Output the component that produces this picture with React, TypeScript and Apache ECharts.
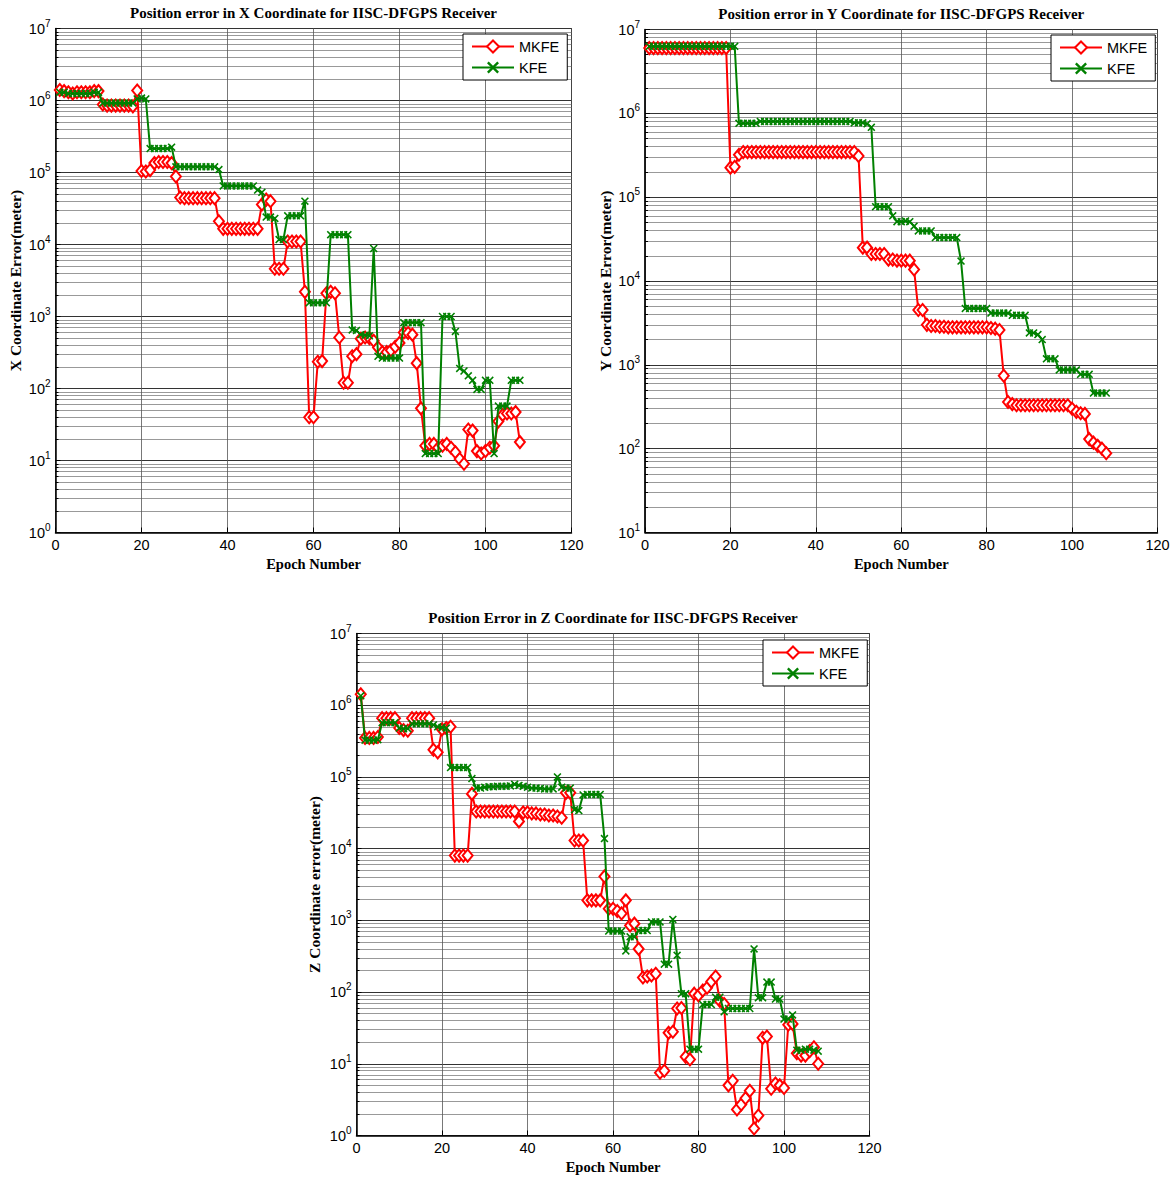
import React, { useEffect, useRef } from "react";
import * as echarts from "echarts";

// Epoch numbers (x positions of every sample)
const epochs: number[] = Array.from({ length: 108 }, (_, i) => i + 1);

// ---- X coordinate errors (meter) ----
const xMkfe: number[] = [
  1.4e6, 1.35e6, 1.3e6, 1.25e6, 1.3e6, 1.3e6, 1.3e6, 1.3e6, 1.35e6, 1.35e6,
  8.8e5, 8.5e5, 8.5e5, 8.5e5, 8.5e5, 8.5e5, 8.5e5, 8.3e5, 1.38e6, 1.05e5,
  1.03e5, 1.08e5, 1.35e5, 1.4e5, 1.4e5, 1.4e5, 1.35e5, 8.8e4, 4.5e4, 4.4e4,
  4.4e4, 4.4e4, 4.4e4, 4.4e4, 4.4e4, 4.4e4, 4.4e4, 2.1e4, 1.65e4, 1.65e4,
  1.65e4, 1.65e4, 1.65e4, 1.65e4, 1.65e4, 1.65e4, 1.65e4, 3.6e4, 4.2e4, 4.0e4,
  4.6e3, 4.6e3, 4.6e3, 1.1e4, 1.1e4, 1.1e4, 1.1e4, 2.2e3, 40, 40,
  235, 240, 2.1e3, 2.2e3, 2.1e3, 510, 120, 120, 280, 300,
  490, 510, 500, 460, 370, 320, 320, 340, 380, 430,
  600, 590, 560, 225, 53, 16, 17, 17, 15, 16,
  17, 15, 13, 10.5, 9, 27, 26, 13.5, 12.5, 13.5,
  15, 16, 35, 43, 45, 45, 47, 18,
];
const xKfe: number[] = [
  1.3e6, 1.3e6, 1.25e6, 1.25e6, 1.25e6, 1.25e6, 1.25e6, 1.25e6, 1.3e6, 1.3e6,
  9.2e5, 9.2e5, 9.2e5, 9.2e5, 9.2e5, 9.2e5, 9.2e5, 9.2e5, 1.05e6, 1.08e6,
  1.05e6, 2.15e5, 2.15e5, 2.15e5, 2.15e5, 2.15e5, 2.25e5, 1.2e5, 1.2e5, 1.2e5,
  1.2e5, 1.2e5, 1.2e5, 1.2e5, 1.2e5, 1.2e5, 1.2e5, 1.1e5, 6.5e4, 6.5e4,
  6.5e4, 6.5e4, 6.5e4, 6.5e4, 6.5e4, 6.5e4, 5.7e4, 5.3e4, 2.4e4, 2.4e4,
  2.3e4, 1.17e4, 1.17e4, 2.5e4, 2.5e4, 2.5e4, 2.5e4, 4.0e4, 1.55e3, 1.55e3,
  1.55e3, 1.55e3, 1.55e3, 1.37e4, 1.37e4, 1.37e4, 1.37e4, 1.37e4, 650, 640,
  560, 550, 540, 8.8e3, 280, 265, 265, 265, 265, 265,
  820, 820, 820, 820, 820, 12.5, 12.5, 12.5, 12.5, 1.0e3,
  1.0e3, 1.0e3, 620, 190, 175, 150, 130, 97, 97, 130,
  130, 12.5, 57, 57, 57, 130, 130, 130,
];

// ---- Y coordinate errors (meter) ----
const yMkfe: number[] = [
  6.0e6, 6.0e6, 6.0e6, 6.0e6, 6.0e6, 6.0e6, 6.0e6, 6.0e6, 6.0e6, 6.0e6,
  6.0e6, 6.0e6, 6.0e6, 6.0e6, 6.0e6, 6.0e6, 6.0e6, 6.0e6, 6.0e6, 2.25e5,
  2.3e5, 3.2e5, 3.45e5, 3.45e5, 3.45e5, 3.45e5, 3.45e5, 3.45e5, 3.45e5, 3.45e5,
  3.45e5, 3.45e5, 3.45e5, 3.45e5, 3.45e5, 3.45e5, 3.45e5, 3.45e5, 3.45e5, 3.45e5,
  3.45e5, 3.45e5, 3.45e5, 3.45e5, 3.45e5, 3.45e5, 3.45e5, 3.45e5, 3.45e5, 3.1e5,
  2.5e4, 2.5e4, 2.1e4, 2.1e4, 2.1e4, 2.1e4, 1.8e4, 1.8e4, 1.75e4, 1.75e4,
  1.75e4, 1.75e4, 1.37e4, 4.5e3, 4.5e3, 3.0e3, 2.9e3, 2.9e3, 2.85e3, 2.85e3,
  2.8e3, 2.8e3, 2.8e3, 2.8e3, 2.8e3, 2.8e3, 2.8e3, 2.8e3, 2.8e3, 2.8e3,
  2.75e3, 2.7e3, 2.6e3, 740, 360, 340, 330, 330, 330, 330,
  330, 330, 330, 330, 330, 330, 330, 330, 330, 300,
  275, 265, 260, 130, 118, 108, 100, 88,
];
const yKfe: number[] = [
  6.3e6, 6.3e6, 6.3e6, 6.3e6, 6.3e6, 6.3e6, 6.3e6, 6.3e6, 6.3e6, 6.3e6,
  6.3e6, 6.3e6, 6.3e6, 6.3e6, 6.3e6, 6.3e6, 6.3e6, 6.3e6, 6.3e6, 6.3e6,
  6.3e6, 7.6e5, 7.6e5, 7.6e5, 7.6e5, 7.6e5, 8.0e5, 8.0e5, 8.0e5, 8.0e5,
  8.0e5, 8.0e5, 8.0e5, 8.0e5, 8.0e5, 8.0e5, 8.0e5, 8.0e5, 8.0e5, 8.0e5,
  8.0e5, 8.0e5, 8.0e5, 8.0e5, 8.0e5, 8.0e5, 8.0e5, 8.0e5, 7.7e5, 7.7e5,
  7.7e5, 7.5e5, 6.8e5, 7.7e4, 7.7e4, 7.7e4, 7.7e4, 6.0e4, 5.1e4, 5.1e4,
  5.2e4, 5.1e4, 4.5e4, 3.95e4, 3.95e4, 3.95e4, 3.95e4, 3.3e4, 3.3e4, 3.3e4,
  3.3e4, 3.3e4, 3.3e4, 1.73e4, 4.7e3, 4.7e3, 4.7e3, 4.7e3, 4.7e3, 4.7e3,
  4.15e3, 4.15e3, 4.15e3, 4.15e3, 4.15e3, 3.9e3, 3.9e3, 3.9e3, 3.9e3, 2.4e3,
  2.4e3, 2.3e3, 2.0e3, 1.18e3, 1.18e3, 1.18e3, 870, 870, 870, 870,
  870, 770, 770, 770, 460, 460, 460, 460,
];

// ---- Z coordinate errors (meter) ----
const zMkfe: number[] = [
  1.42e6, 3.5e5, 3.5e5, 3.5e5, 3.6e5, 6.6e5, 6.6e5, 6.6e5, 6.6e5, 4.8e5,
  4.5e5, 4.4e5, 6.6e5, 6.6e5, 6.6e5, 6.6e5, 6.6e5, 2.4e5, 2.2e5, 4.6e5,
  4.8e5, 5.0e5, 8e3, 8e3, 8e3, 8e3, 5.8e4, 3.3e4, 3.3e4, 3.3e4,
  3.3e4, 3.3e4, 3.3e4, 3.3e4, 3.3e4, 3.3e4, 3.3e4, 2.4e4, 3.2e4, 3.2e4,
  3.1e4, 3.1e4, 3.0e4, 3.0e4, 2.9e4, 2.9e4, 2.8e4, 2.7e4, 6.0e4, 6.0e4,
  1.3e4, 1.3e4, 1.3e4, 1.9e3, 1.9e3, 1.9e3, 1.9e3, 4.1e3, 1.45e3, 1.45e3,
  1.35e3, 1.25e3, 1.9e3, 850, 900, 400, 160, 165, 170, 180,
  7.5, 8, 27, 28, 59, 60, 12.5, 11.5, 95, 90,
  105, 115, 140, 165, 75, 68, 5.0, 5.8, 2.3, 2.7,
  3.3, 4.2, 1.25, 1.9, 23, 24, 4.5, 5.3, 5.0, 4.6,
  35, 36, 14, 13, 13, 15, 17, 10,
];
const zKfe: number[] = [
  1.35e6, 3.25e5, 3.25e5, 3.25e5, 3.3e5, 5.7e5, 5.7e5, 5.7e5, 5.7e5, 4.8e5,
  4.7e5, 4.7e5, 5.5e5, 5.5e5, 5.5e5, 5.5e5, 5.5e5, 5.3e5, 5.0e5, 4.9e5,
  4.8e5, 1.35e5, 1.35e5, 1.35e5, 1.35e5, 1.35e5, 9.5e4, 7.0e4, 7.0e4, 7.2e4,
  7.3e4, 7.3e4, 7.4e4, 7.4e4, 7.4e4, 7.5e4, 7.9e4, 7.6e4, 7.4e4, 7.2e4,
  7.0e4, 7.0e4, 6.9e4, 6.8e4, 6.8e4, 6.8e4, 1.0e5, 7.2e4, 7.0e4, 7.0e4,
  3.5e4, 3.4e4, 5.6e4, 5.7e4, 5.7e4, 5.7e4, 5.7e4, 1.38e4, 710, 710,
  710, 710, 375, 590, 590, 720, 720, 720, 950, 950,
  950, 245, 245, 1.03e3, 325, 95, 95, 16, 16, 16,
  67, 67, 67, 85, 85, 53, 59, 59, 59, 59,
  59, 59, 400, 83, 83, 138, 138, 80, 80, 42,
  42, 48, 15.5, 15.5, 16, 16, 15.5, 15,
];

const xTicks = [0, 20, 40, 60, 80, 100, 120];
const seriesNames = ["MKFE", "KFE"];

const SANS = "'Liberation Sans', Arial, Helvetica, sans-serif";
const SERIF = "'Liberation Serif', 'Times New Roman', serif";
const X_MARK =
  "path://M0,1.4L1.4,0L5,3.6L8.6,0L10,1.4L6.4,5L10,8.6L8.6,10L5,6.4L1.4,10L0,8.6L3.6,5Z";

const panels = [
  {
    title: "Position error in X Coordinate for IISC-DFGPS Receiver",
    yName: "X Coordinate Error(meter)",
    mk: xMkfe,
    kf: xKfe,
    yMin: 1,
    grid: { left: 55.5, top: 28.5, width: 516, height: 504 },
    legend: { left: 463, top: 34 },
    yNameGap: 32,
  },
  {
    title: "Position error in Y Coordinate for IISC-DFGPS Receiver",
    yName: "Y Coordinate Error(meter)",
    mk: yMkfe,
    kf: yKfe,
    yMin: 10,
    grid: { left: 645, top: 29.5, width: 512.5, height: 503 },
    legend: { left: 1051, top: 35 },
    yNameGap: 32,
  },
  {
    title: "Position Error in Z Coordinate for IISC-DFGPS Receiver",
    yName: "Z Coordinate error(meter)",
    mk: zMkfe,
    kf: zKfe,
    yMin: 1,
    grid: { left: 356.5, top: 633.5, width: 513, height: 502 },
    legend: { left: 763, top: 640 },
    yNameGap: 34,
  },
];

function pairs(vals: number[]) {
  return vals.map((v, i) => [epochs[i], v]);
}

export default function App() {
  const ref = useRef<HTMLDivElement>(null);
  useEffect(() => {
    if (!ref.current) return;
    const chart = echarts.init(ref.current, undefined, { renderer: "svg" });
    const option: any = {
      animation: false,
      backgroundColor: "#fff",
      title: panels.map((p) => ({
        text: p.title,
        left: p.grid.left + p.grid.width / 2,
        top: p.grid.top - 23,
        padding: 0,
        textAlign: "center",
        textStyle: { fontFamily: SERIF, fontWeight: "bold", fontSize: 15, color: "#000" },
      })),
      legend: panels.map((p) => ({
        data: seriesNames,
        orient: "vertical",
        left: p.legend.left,
        top: p.legend.top,
        backgroundColor: "#fff",
        borderColor: "#000",
        borderWidth: 1,
        borderRadius: 0,
        padding: [5, 8, 5, 8],
        itemGap: 6,
        itemWidth: 42,
        itemHeight: 15,
        selectedMode: false,
        textStyle: { fontFamily: SANS, fontSize: 14.5, color: "#000" },
      })),
      grid: panels.map((p) => ({
        left: p.grid.left,
        top: p.grid.top,
        width: p.grid.width,
        height: p.grid.height,
        show: true,
        borderColor: "#000",
        borderWidth: 1,
        backgroundColor: "transparent",
        containLabel: false,
      })),
      xAxis: panels.map((p, i) => ({
        type: "value",
        gridIndex: i,
        min: xTicks[0],
        max: xTicks[xTicks.length - 1],
        interval: 20,
        name: "Epoch Number",
        nameLocation: "middle",
        nameGap: 24,
        nameTextStyle: { fontFamily: SERIF, fontWeight: "bold", fontSize: 14.5, color: "#000" },
        axisLine: { show: true, onZero: false, lineStyle: { color: "#000", width: 1.5 } },
        axisTick: { show: true, inside: true, length: 5, lineStyle: { color: "#000" } },
        axisLabel: { fontFamily: SANS, fontSize: 14.5, color: "#000", margin: 5 },
        splitLine: { show: true, lineStyle: { color: "#555", width: 0.8 } },
      })),
      yAxis: panels.map((p, i) => ({
        type: "log",
        logBase: 10,
        gridIndex: i,
        min: p.yMin,
        max: 1e7,
        name: p.yName,
        nameLocation: "middle",
        nameGap: p.yNameGap,
        nameRotate: 90,
        nameTextStyle: { fontFamily: SERIF, fontWeight: "bold", fontSize: 15.5, color: "#000" },
        axisLine: { show: true, lineStyle: { color: "#000", width: 1.5 } },
        axisTick: { show: true, inside: true, length: 5, lineStyle: { color: "#000" } },
        minorTick: { show: true, splitNumber: 9, length: 3, lineStyle: { color: "#000" } },
        axisLabel: {
          margin: 5,
          color: "#000",
          formatter: (v: number) => {
            const e = Math.round(Math.log10(v));
            return "{b|10}{s|" + e + "}";
          },
          rich: {
            b: { fontFamily: SANS, fontSize: 14.5, color: "#000" },
            s: { fontFamily: SANS, fontSize: 10, color: "#000", padding: [0, 0, 11, 0] },
          },
        },
        splitLine: { show: true, lineStyle: { color: "#333", width: 1 } },
        minorSplitLine: { show: true, lineStyle: { color: "#999", width: 1 } },
      })),
      series: panels.flatMap((p, i) => [
        {
          name: seriesNames[0],
          type: "line",
          xAxisIndex: i,
          yAxisIndex: i,
          data: pairs(p.mk),
          symbol: "emptyDiamond",
          symbolSize: [10, 12],
          showAllSymbol: true,
          lineStyle: { color: "#ff0000", width: 2 },
          itemStyle: { color: "#ff0000", borderColor: "#ff0000", borderWidth: 1.5 },
          z: 3,
        },
        {
          name: seriesNames[1],
          type: "line",
          xAxisIndex: i,
          yAxisIndex: i,
          data: pairs(p.kf),
          symbol: X_MARK,
          symbolSize: 8,
          showAllSymbol: true,
          lineStyle: { color: "#008000", width: 2 },
          itemStyle: { color: "#008000" },
          z: 4,
        },
      ]),
    };
    chart.setOption(option);
    return () => chart.dispose();
  }, []);
  return (
    <div
      ref={ref}
      style={{ position: "absolute", left: 0, top: 0, width: 1176, height: 1178, background: "#fff" }}
    />
  );
}
